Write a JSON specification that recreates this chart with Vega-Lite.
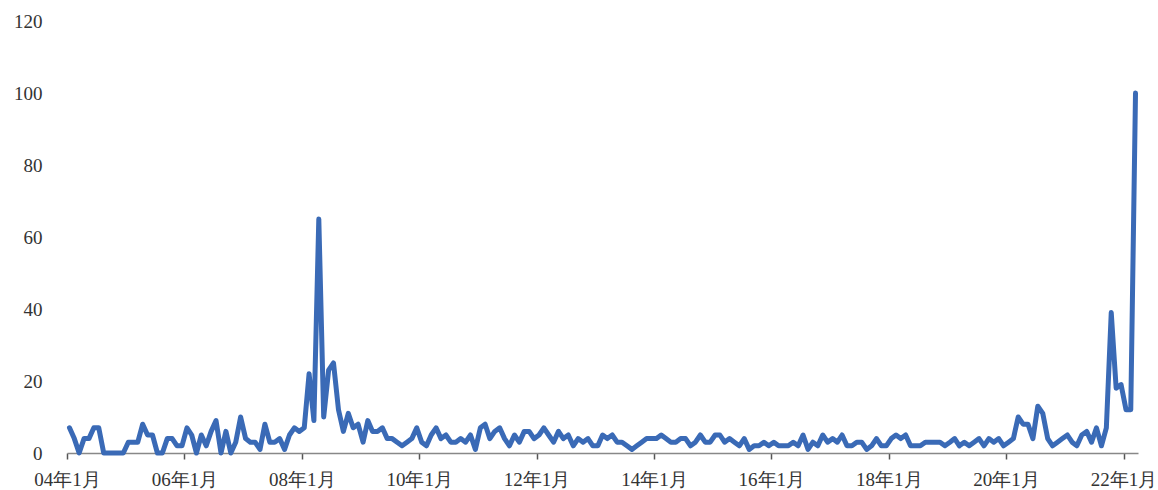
{
 "$schema": "https://vega.github.io/schema/vega-lite/v6.json",
 "width": 1071, "height": 432,
 "autosize": {"type": "none"},
 "padding": {"left": 67, "top": 21, "right": 20, "bottom": 37},
 "background": "white",
 "config": {"view": {"stroke": null}, "font": "Liberation Serif"},
 "data": {"values": [
  {"month":"2004-01","value":7},{"month":"2004-02","value":4},{"month":"2004-03","value":0},{"month":"2004-04","value":4},{"month":"2004-05","value":4},{"month":"2004-06","value":7},{"month":"2004-07","value":7},{"month":"2004-08","value":0},{"month":"2004-09","value":0},{"month":"2004-10","value":0},{"month":"2004-11","value":0},{"month":"2004-12","value":0},
  {"month":"2005-01","value":3},{"month":"2005-02","value":3},{"month":"2005-03","value":3},{"month":"2005-04","value":8},{"month":"2005-05","value":5},{"month":"2005-06","value":5},{"month":"2005-07","value":0},{"month":"2005-08","value":0},{"month":"2005-09","value":4},{"month":"2005-10","value":4},{"month":"2005-11","value":2},{"month":"2005-12","value":2},
  {"month":"2006-01","value":7},{"month":"2006-02","value":5},{"month":"2006-03","value":0},{"month":"2006-04","value":5},{"month":"2006-05","value":2},{"month":"2006-06","value":6},{"month":"2006-07","value":9},{"month":"2006-08","value":0},{"month":"2006-09","value":6},{"month":"2006-10","value":0},{"month":"2006-11","value":3},{"month":"2006-12","value":10},
  {"month":"2007-01","value":4},{"month":"2007-02","value":3},{"month":"2007-03","value":3},{"month":"2007-04","value":1},{"month":"2007-05","value":8},{"month":"2007-06","value":3},{"month":"2007-07","value":3},{"month":"2007-08","value":4},{"month":"2007-09","value":1},{"month":"2007-10","value":5},{"month":"2007-11","value":7},{"month":"2007-12","value":6},
  {"month":"2008-01","value":7},{"month":"2008-02","value":22},{"month":"2008-03","value":9},{"month":"2008-04","value":65},{"month":"2008-05","value":10},{"month":"2008-06","value":23},{"month":"2008-07","value":25},{"month":"2008-08","value":12},{"month":"2008-09","value":6},{"month":"2008-10","value":11},{"month":"2008-11","value":7},{"month":"2008-12","value":8},
  {"month":"2009-01","value":3},{"month":"2009-02","value":9},{"month":"2009-03","value":6},{"month":"2009-04","value":6},{"month":"2009-05","value":7},{"month":"2009-06","value":4},{"month":"2009-07","value":4},{"month":"2009-08","value":3},{"month":"2009-09","value":2},{"month":"2009-10","value":3},{"month":"2009-11","value":4},{"month":"2009-12","value":7},
  {"month":"2010-01","value":3},{"month":"2010-02","value":2},{"month":"2010-03","value":5},{"month":"2010-04","value":7},{"month":"2010-05","value":4},{"month":"2010-06","value":5},{"month":"2010-07","value":3},{"month":"2010-08","value":3},{"month":"2010-09","value":4},{"month":"2010-10","value":3},{"month":"2010-11","value":5},{"month":"2010-12","value":1},
  {"month":"2011-01","value":7},{"month":"2011-02","value":8},{"month":"2011-03","value":4},{"month":"2011-04","value":6},{"month":"2011-05","value":7},{"month":"2011-06","value":4},{"month":"2011-07","value":2},{"month":"2011-08","value":5},{"month":"2011-09","value":3},{"month":"2011-10","value":6},{"month":"2011-11","value":6},{"month":"2011-12","value":4},
  {"month":"2012-01","value":5},{"month":"2012-02","value":7},{"month":"2012-03","value":5},{"month":"2012-04","value":3},{"month":"2012-05","value":6},{"month":"2012-06","value":4},{"month":"2012-07","value":5},{"month":"2012-08","value":2},{"month":"2012-09","value":4},{"month":"2012-10","value":3},{"month":"2012-11","value":4},{"month":"2012-12","value":2},
  {"month":"2013-01","value":2},{"month":"2013-02","value":5},{"month":"2013-03","value":4},{"month":"2013-04","value":5},{"month":"2013-05","value":3},{"month":"2013-06","value":3},{"month":"2013-07","value":2},{"month":"2013-08","value":1},{"month":"2013-09","value":2},{"month":"2013-10","value":3},{"month":"2013-11","value":4},{"month":"2013-12","value":4},
  {"month":"2014-01","value":4},{"month":"2014-02","value":5},{"month":"2014-03","value":4},{"month":"2014-04","value":3},{"month":"2014-05","value":3},{"month":"2014-06","value":4},{"month":"2014-07","value":4},{"month":"2014-08","value":2},{"month":"2014-09","value":3},{"month":"2014-10","value":5},{"month":"2014-11","value":3},{"month":"2014-12","value":3},
  {"month":"2015-01","value":5},{"month":"2015-02","value":5},{"month":"2015-03","value":3},{"month":"2015-04","value":4},{"month":"2015-05","value":3},{"month":"2015-06","value":2},{"month":"2015-07","value":4},{"month":"2015-08","value":1},{"month":"2015-09","value":2},{"month":"2015-10","value":2},{"month":"2015-11","value":3},{"month":"2015-12","value":2},
  {"month":"2016-01","value":3},{"month":"2016-02","value":2},{"month":"2016-03","value":2},{"month":"2016-04","value":2},{"month":"2016-05","value":3},{"month":"2016-06","value":2},{"month":"2016-07","value":5},{"month":"2016-08","value":1},{"month":"2016-09","value":3},{"month":"2016-10","value":2},{"month":"2016-11","value":5},{"month":"2016-12","value":3},
  {"month":"2017-01","value":4},{"month":"2017-02","value":3},{"month":"2017-03","value":5},{"month":"2017-04","value":2},{"month":"2017-05","value":2},{"month":"2017-06","value":3},{"month":"2017-07","value":3},{"month":"2017-08","value":1},{"month":"2017-09","value":2},{"month":"2017-10","value":4},{"month":"2017-11","value":2},{"month":"2017-12","value":2},
  {"month":"2018-01","value":4},{"month":"2018-02","value":5},{"month":"2018-03","value":4},{"month":"2018-04","value":5},{"month":"2018-05","value":2},{"month":"2018-06","value":2},{"month":"2018-07","value":2},{"month":"2018-08","value":3},{"month":"2018-09","value":3},{"month":"2018-10","value":3},{"month":"2018-11","value":3},{"month":"2018-12","value":2},
  {"month":"2019-01","value":3},{"month":"2019-02","value":4},{"month":"2019-03","value":2},{"month":"2019-04","value":3},{"month":"2019-05","value":2},{"month":"2019-06","value":3},{"month":"2019-07","value":4},{"month":"2019-08","value":2},{"month":"2019-09","value":4},{"month":"2019-10","value":3},{"month":"2019-11","value":4},{"month":"2019-12","value":2},
  {"month":"2020-01","value":3},{"month":"2020-02","value":4},{"month":"2020-03","value":10},{"month":"2020-04","value":8},{"month":"2020-05","value":8},{"month":"2020-06","value":4},{"month":"2020-07","value":13},{"month":"2020-08","value":11},{"month":"2020-09","value":4},{"month":"2020-10","value":2},{"month":"2020-11","value":3},{"month":"2020-12","value":4},
  {"month":"2021-01","value":5},{"month":"2021-02","value":3},{"month":"2021-03","value":2},{"month":"2021-04","value":5},{"month":"2021-05","value":6},{"month":"2021-06","value":3},{"month":"2021-07","value":7},{"month":"2021-08","value":2},{"month":"2021-09","value":7},{"month":"2021-10","value":39},{"month":"2021-11","value":18},{"month":"2021-12","value":19},
  {"month":"2022-01","value":12},{"month":"2022-02","value":12},{"month":"2022-03","value":100}
 ]},
 "mark": {"type": "line", "color": "#3a6ab6", "strokeWidth": 5, "strokeJoin": "round", "strokeCap": "round"},
 "encoding": {
  "x": {
   "field": "month", "timeUnit": "utcyearmonth", "type": "temporal", "bandPosition": 0.5,
   "scale": {"type": "utc", "domain": [{"year": 2004, "month": 1, "date": 1, "utc": true}, {"year": 2022, "month": 4, "date": 1, "utc": true}]},
   "axis": {"title": null, "format": "%y年%-m月", "tickCount": {"interval": "year", "step": 2}, "grid": false, "labelFlush": false, "domainColor": "#888888", "domainWidth": 1.5, "tickColor": "#555555", "tickSize": 6, "tickWidth": 1.5, "labelFontSize": 19, "labelColor": "#333333", "labelPadding": 11, "labelFont": "Liberation Serif"}
  },
  "y": {
   "field": "value", "type": "quantitative", "scale": {"domain": [0, 120]},
   "axis": {"title": null, "values": [0, 20, 40, 60, 80, 100, 120], "grid": false, "domain": false, "ticks": false, "labelPadding": 25, "labelFontSize": 19, "labelColor": "#333333", "labelFont": "Liberation Serif"}
  }
 }
}
